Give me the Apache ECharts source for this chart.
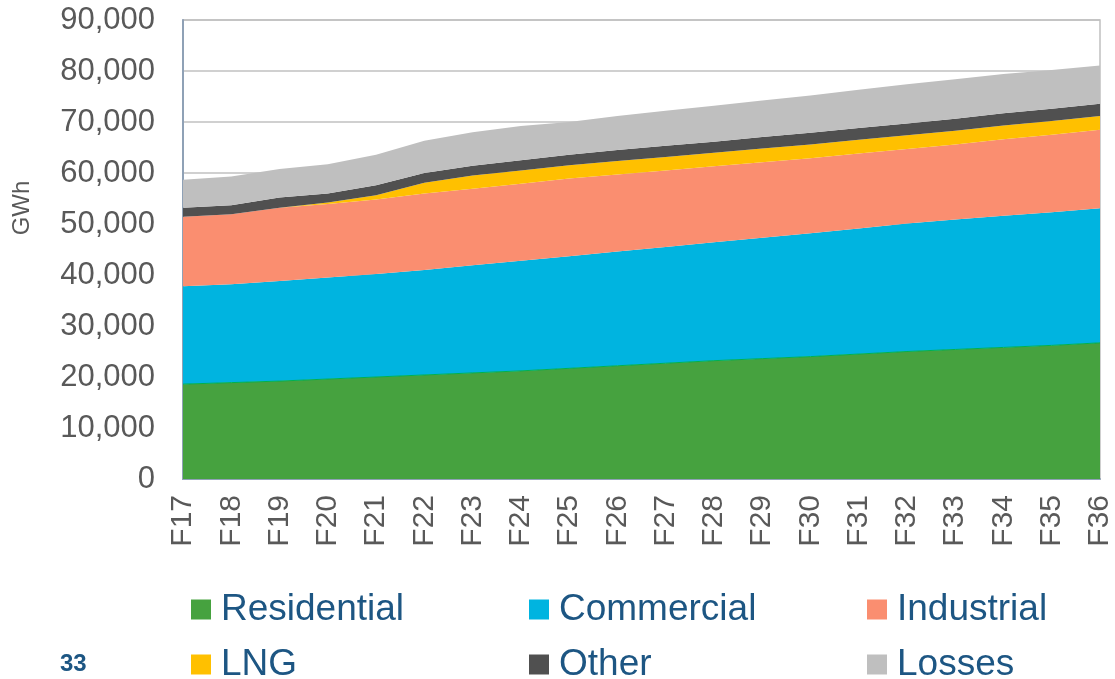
<!DOCTYPE html>
<html>
<head>
<meta charset="utf-8">
<script src="https://cdn.jsdelivr.net/npm/echarts@6/dist/echarts.min.js"></script>
<style>
html,body{margin:0;padding:0;background:#fff;}
#c{width:1115px;height:679px;}
</style>
</head>
<body>
<div id="c"></div>
<script>
var categories = ['F17','F18','F19','F20','F21','F22','F23','F24','F25','F26','F27','F28','F29','F30','F31','F32','F33','F34','F35','F36'];
var residential = [18600,18900,19200,19600,20000,20400,20800,21200,21700,22200,22700,23200,23600,24000,24500,25000,25400,25800,26200,26700];
var commercial  = [19200,19300,19600,19900,20200,20600,21100,21600,22000,22400,22800,23200,23700,24200,24600,25100,25500,25800,26100,26400];
var industrial  = [13600,13700,14400,14400,14600,15000,15000,15100,15200,15100,15000,14900,14800,14700,14700,14600,14700,15000,15200,15400];
var lng         = [0,0,0,300,850,2100,2600,2600,2600,2650,2650,2650,2700,2700,2700,2700,2700,2700,2700,2700];
var other       = [1800,1800,2000,1800,1950,1900,1900,2000,2100,2150,2200,2200,2250,2300,2300,2300,2350,2400,2400,2400];
var losses      = [5500,5600,5600,5700,6000,6300,6600,6700,6400,6700,6850,7050,7150,7300,7500,7700,7750,7700,7600,7500];
var yTicks = [0,10000,20000,30000,40000,50000,60000,70000,80000,90000];

var names = ['Residential','Commercial','Industrial','LNG','Other','Losses'];
var colors = ['#46A23F','#00B4E0','#FA8E70','#FFC000','#505050','#BFBFBF'];
var datasets = [residential, commercial, industrial, lng, other, losses];

var series = names.map(function(n, i){
  return {
    name: n,
    type: 'line',
    stack: 'total',
    symbol: 'none',
    data: datasets[i],
    itemStyle: {color: colors[i]},
    lineStyle: {width: i === 0 ? 1 : 0, color: i === 0 ? '#00B050' : colors[i]},
    areaStyle: {color: colors[i], opacity: 1},
    emphasis: {disabled: true},
    z: 2
  };
});

var legendText = {color:'#1D5683', fontSize:37, fontFamily:'Liberation Sans, Arial, sans-serif', lineHeight:37, padding:[0,0,0,5]};
function mkLegend(left, data){
  return {
    orient:'vertical', left:left, top:591, height:110, icon:'rect', itemWidth:20, itemHeight:20,
    itemGap:18, textStyle: legendText, data: data, selectedMode:false, padding:0
  };
}

var chart = echarts.init(document.getElementById('c'), null, {renderer:'canvas'});
chart.setOption({
  animation: false,
  backgroundColor: '#fff',
  grid: {left:183, right:12, top:20, bottom:200, show:true, borderColor:'#C0C0C0', borderWidth:1.5},
  legend: [
    mkLegend(191, ['Residential','LNG']),
    mkLegend(529, ['Commercial','Other']),
    mkLegend(867, ['Industrial','Losses'])
  ],
  xAxis: {
    type:'category', data: categories, boundaryGap:false,
    axisLine:{show:true, lineStyle:{color:'#8FA1B6', width:2}},
    axisTick:{show:false},
    axisLabel:{rotate:90, fontSize:30, color:'#595959', fontFamily:'Liberation Sans, Arial, sans-serif', margin:16, interval:0},
    splitLine:{show:false}
  },
  yAxis: {
    type:'value', min: yTicks[0], max: yTicks[yTicks.length-1], interval:10000,
    axisLine:{show:true, lineStyle:{color:'#8FA1B6', width:2}},
    axisTick:{show:false},
    axisLabel:{fontSize:31, color:'#595959', fontFamily:'Liberation Sans, Arial, sans-serif', margin:28,
      formatter:function(v){return v.toLocaleString('en-US');}},
    splitLine:{show:true, lineStyle:{color:'#C0C0C0', width:1.5}}
  },
  graphic: [
    {type:'text', x:22, y:208, rotation:Math.PI/2,
     style:{text:'GWh', fontSize:24, fill:'#595959', fontFamily:'Liberation Sans, Arial, sans-serif', align:'center', verticalAlign:'middle'}},
    {type:'text', left:60, top:652,
     style:{text:'33', fontSize:24, fontWeight:'bold', fill:'#1D5683', fontFamily:'Liberation Sans, Arial, sans-serif'}}
  ],
  series: series
});
</script>
</body>
</html>
